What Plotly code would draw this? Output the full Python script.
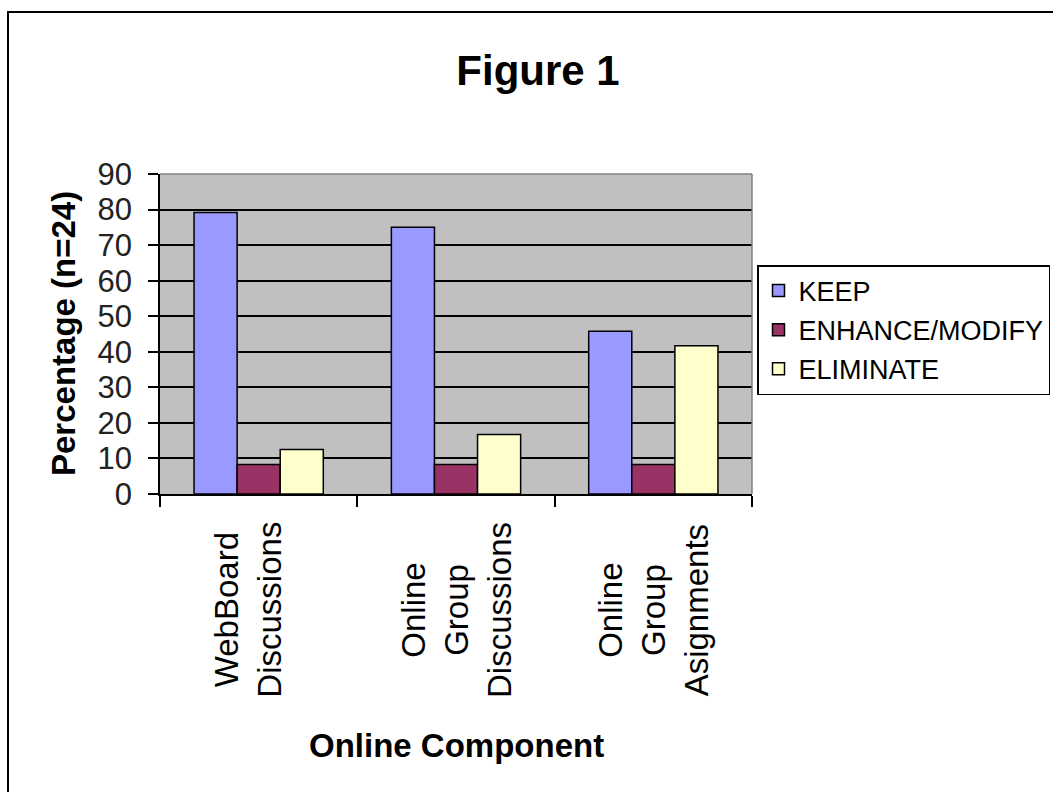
import plotly.graph_objects as go

# Survey results: share of respondents (n=24) per online component
categories = ["WebBoard Discussions", "Online Group Discussions", "Online Group Asignments"]
category_labels = ["WebBoard<br>Discussions", "Online<br>Group<br>Discussions", "Online<br>Group<br>Asignments"]
series_names = ["KEEP", "ENHANCE/MODIFY", "ELIMINATE"]
keep = [79.2, 75.0, 45.8]
enhance_modify = [8.3, 8.3, 8.3]
eliminate = [12.5, 16.7, 41.7]
y_ticks = [0, 10, 20, 30, 40, 50, 60, 70, 80, 90]

colors = ["#9999FF", "#993366", "#FFFFCC"]
FONT = "Arial, Liberation Sans, sans-serif"

W, H = 1053, 792
L, R, T, B = 160, 752, 174, 494  # plot area in pixels
pw, ph = R - L, B - T


def px_x(x):
    return (x - L) / pw


def px_y(y):
    return (B - y) / ph


fig = go.Figure()
for name, vals, col in zip(series_names, [keep, enhance_modify, eliminate], colors):
    fig.add_trace(go.Bar(
        name=name, x=categories, y=vals, legendgroup=name,
        marker=dict(color=col, line=dict(color="black", width=1.5)),
    ))

# rotated category labels, lines centred
for i, (cat, lab) in enumerate(zip(categories, category_labels)):
    fig.add_annotation(
        x=cat, xref="x", y=px_y(610), yref="paper",
        text=lab, textangle=-90, showarrow=False, align="center",
        xanchor="center", yanchor="middle", xshift=-11 if i == 0 else 0,
        font=dict(family=FONT, size=33, color="black"),
    )

# axis titles
fig.add_annotation(
    x=0.5, xref="paper", y=px_y(745), yref="paper",
    text="<b>Online Component</b>", showarrow=False,
    xanchor="center", yanchor="middle",
    font=dict(family=FONT, size=33, color="black"),
)
fig.add_annotation(
    x=px_x(63), xref="paper", y=0.5, yref="paper",
    text="<b>Percentage (n=24)</b>", textangle=-90, showarrow=False,
    xanchor="center", yanchor="middle",
    font=dict(family=FONT, size=33, color="black"),
)

# outer chart frame and plot-area border
fig.add_shape(type="rect", xref="paper", yref="paper",
              x0=px_x(8), x1=px_x(1065), y0=px_y(805), y1=px_y(12),
              line=dict(color="black", width=2), layer="above")
fig.add_shape(type="line", xref="paper", yref="paper",
              x0=0, x1=1, y0=1, y1=1, line=dict(color="#808080", width=1.5), layer="above")
fig.add_shape(type="line", xref="paper", yref="paper",
              x0=1, x1=1, y0=0, y1=1, line=dict(color="#808080", width=1.5), layer="above")

fig.update_layout(
    width=W, height=H,
    margin=dict(l=L, r=W - R, t=T, b=H - B, pad=0, autoexpand=False),
    paper_bgcolor="white", plot_bgcolor="#C0C0C0",
    barmode="group", bargap=0.345, bargroupgap=0,
    title=dict(text="<b>Figure 1</b>", x=538 / W, xanchor="center",
               y=1 - 70 / H, yanchor="middle",
               font=dict(family=FONT, size=42, color="black")),
    showlegend=True,
    legend=dict(
        xref="container", yref="container",
        x=757 / W, xanchor="left", y=1 - 265 / H, yanchor="top",
        bgcolor="white", bordercolor="black", borderwidth=1.5,
        font=dict(family=FONT, size=27, color="black"),
        traceorder="grouped", tracegroupgap=1,
    ),
    xaxis=dict(
        showticklabels=False, tickson="boundaries", ticks="outside",
        ticklen=11, tickwidth=1.5, tickcolor="black",
        showline=True, linecolor="black", linewidth=1.5,
        showgrid=False, zeroline=False,
    ),
    yaxis=dict(
        range=[0, 90], tickvals=y_ticks, ticks="outside", ticklen=10,
        tickwidth=1.5, tickcolor="black",
        showline=True, linecolor="black", linewidth=1.5,
        showgrid=True, gridcolor="black", gridwidth=1.5, zeroline=False,
        tickfont=dict(family=FONT, size=31, color="#222222"),
        ticklabelstandoff=10,
    ),
)

fig.write_html("out.html")
